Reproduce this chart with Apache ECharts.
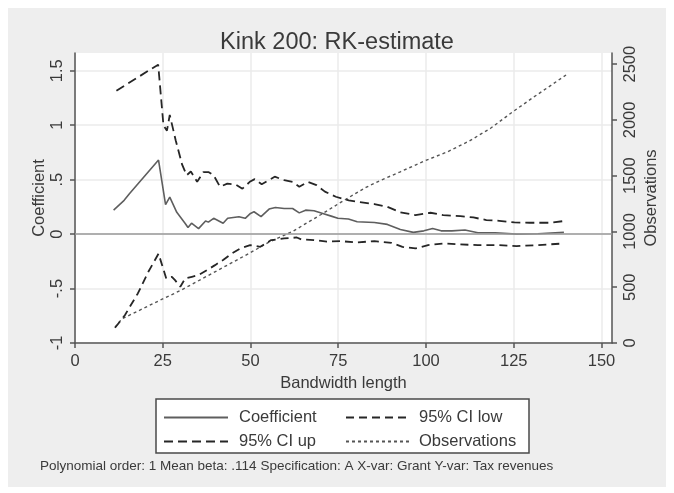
<!DOCTYPE html>
<html>
<head>
<meta charset="utf-8">
<script src="https://cdn.jsdelivr.net/npm/echarts@6/dist/echarts.min.js"></script>
<style>
html,body{margin:0;padding:0;background:#ffffff;}
#chart{width:674px;height:493px;}
</style>
</head>
<body>
<div id="chart"></div>
<script>
// ---- data ----
const coefX = [11, 14, 15.5, 23.8, 25.8, 27, 29, 31.4, 32.2, 33.2, 35.2, 37.2, 38, 39.5, 42.2, 43.5, 46.7, 48.5, 50, 51, 53, 55.3, 57.1, 59.6, 62, 63.9, 65.7, 68.1, 70.6, 73, 74.9, 77.9, 80.4, 85.3, 89, 92.7, 96.4, 99.4, 101.9, 104.3, 107.4, 111.1, 114.8, 119.7, 125.8, 131.9, 139.3];
const coefY = [0.22, 0.31, 0.37, 0.68, 0.27, 0.34, 0.2, 0.098, 0.06, 0.10, 0.05, 0.12, 0.11, 0.145, 0.10, 0.145, 0.16, 0.145, 0.19, 0.205, 0.16, 0.23, 0.245, 0.235, 0.235, 0.195, 0.22, 0.215, 0.19, 0.165, 0.145, 0.138, 0.113, 0.107, 0.089, 0.043, 0.016, 0.03, 0.052, 0.03, 0.03, 0.037, 0.012, 0.012, 0.0, 0.003, 0.016];

const upX = [11.8, 23.7, 25.2, 26.2, 27, 28.7, 30.5, 31.8, 33, 34.8, 36.6, 38, 39.5, 41.3, 43.4, 45.8, 47.7, 49.8, 51.2, 53.2, 56.9, 59.6, 62, 63.9, 66.3, 68.8, 71.2, 74.3, 78, 80.4, 85.3, 89, 92.7, 97, 101.3, 104.9, 109.8, 113.5, 117.2, 120.9, 125.2, 129.5, 135.6, 139.3];
const upY = [1.317, 1.556, 1.0, 0.95, 1.094, 0.86, 0.64, 0.54, 0.575, 0.48, 0.57, 0.57, 0.54, 0.435, 0.463, 0.455, 0.417, 0.48, 0.505, 0.458, 0.527, 0.496, 0.48, 0.435, 0.48, 0.45, 0.39, 0.343, 0.31, 0.297, 0.276, 0.25, 0.2, 0.175, 0.196, 0.175, 0.165, 0.153, 0.129, 0.122, 0.107, 0.104, 0.104, 0.12];

const lowX = [11.4, 14.2, 17.9, 20.9, 23.8, 26, 27.6, 28.5, 30, 31.4, 33.3, 35.2, 37.6, 39.9, 42.3, 44.7, 47.1, 49.9, 52.8, 55.9, 59.6, 63.2, 64.5, 68.1, 71.8, 75.5, 80.4, 85.3, 90.2, 93.3, 97, 100.6, 104.9, 109.8, 114.8, 120.9, 125.8, 131.9, 139.3];
const lowY = [-0.86, -0.745, -0.545, -0.346, -0.18, -0.407, -0.392, -0.423, -0.484, -0.407, -0.392, -0.377, -0.331, -0.285, -0.235, -0.178, -0.132, -0.101, -0.117, -0.055, -0.04, -0.031, -0.049, -0.055, -0.07, -0.064, -0.077, -0.064, -0.08, -0.117, -0.132, -0.101, -0.086, -0.095, -0.101, -0.101, -0.11, -0.101, -0.086];

const obsX = [11.4, 13.3, 24, 30, 40, 50, 55, 62, 70, 76.7, 82.9, 86.5, 92.7, 99.4, 106.2, 112.3, 118.4, 124.6, 130.7, 135.6, 139.9];
const obsY = [140, 215, 380, 470, 640, 810, 900, 1000, 1150, 1280, 1395, 1450, 1535, 1630, 1715, 1810, 1925, 2070, 2205, 2310, 2403];

const xTicks = [0, 25, 50, 75, 100, 125, 150];
const yTicks = [-1, -0.5, 0, 0.5, 1, 1.5];
const yTickLabels = ['-1', '-.5', '0', '.5', '1', '1.5'];
const obsTicks = [0, 500, 1000, 1500, 2000, 2500];
const obsTickLabels = ['0', '500', '1000', '1500', '2000', '2500'];

const titleText = 'Kink 200: RK-estimate';
const noteText = 'Polynomial order: 1 Mean beta: .114 Specification: A X-var: Grant Y-var: Tax revenues';

const pairs = (xs, ys) => xs.map((x, i) => [x, ys[i]]);
const pick = (ticks, labels) => v => { const i = ticks.findIndex(t => Math.abs(t - v) < 1e-6); return i >= 0 ? labels[i] : ''; };

const FONT = '"Liberation Sans", Arial, sans-serif';
const TXT = '#3a3a3a';
const AX = '#555555';

const chart = echarts.init(document.getElementById('chart'), null, {renderer: 'canvas'});

const legendCommon = {
  orient: 'vertical', itemGap: 7, padding: 0,
  itemWidth: 64, itemHeight: 16, z: 10,
  itemStyle: {opacity: 0, borderWidth: 0},
  selectedMode: false
};

const option = {
  backgroundColor: '#ffffff',
  animation: false,
  textStyle: {fontFamily: FONT},
  title: {
    text: titleText,
    left: 'center',
    top: 26,
    textStyle: {fontFamily: FONT, fontSize: 23.5, fontWeight: 'normal', color: TXT}
  },
  graphic: [
    {type: 'rect', z: -100, silent: true, shape: {x: 8, y: 8, width: 658, height: 479}, style: {fill: '#eeeeee'}},
    {type: 'rect', z: 1, silent: true, shape: {x: 156, y: 399, width: 373, height: 54}, style: {fill: '#ffffff', stroke: '#4a4a4a', lineWidth: 1.5}},
    {type: 'text', z: 5, silent: true, x: 40, y: 466, style: {text: noteText, font: '13.5px ' + FONT, fill: TXT, verticalAlign: 'middle'}}
  ],
  legend: [
    Object.assign({}, legendCommon, {
      data: ['Coefficient', '95% CI up'],
      left: 163, top: 409,
      textStyle: {fontFamily: FONT, fontSize: 16.5, color: TXT, lineHeight: 16, padding: [0, 0, 0, 6]}
    }),
    Object.assign({}, legendCommon, {
      data: ['95% CI low', 'Observations'],
      left: 345, top: 409,
      textStyle: {fontFamily: FONT, fontSize: 16.5, color: TXT, lineHeight: 16, padding: [0, 0, 0, 4]}
    })
  ],
  grid: {
    left: 75, right: 62, top: 53, bottom: 150,
    show: true, backgroundColor: '#ffffff', borderWidth: 0,
    containLabel: false
  },
  xAxis: {
    type: 'value', min: 0, max: 153,
    name: 'Bandwidth length', nameLocation: 'middle', nameGap: 30,
    nameTextStyle: {fontFamily: FONT, fontSize: 16.5, color: TXT},
    axisLine: {show: true, onZero: false, lineStyle: {color: AX, width: 1.5}},
    axisTick: {show: true, length: 5, customValues: xTicks, lineStyle: {color: AX, width: 1.5}},
    axisLabel: {customValues: xTicks, margin: 10, fontFamily: FONT, fontSize: 16.5, color: TXT},
    splitLine: {show: true, lineStyle: {color: '#ebebeb', width: 1.5}}
  },
  yAxis: [
    {
      type: 'value', min: -1, max: 1.663, position: 'left',
      name: 'Coefficient', nameLocation: 'middle', nameRotate: 90, nameGap: 27,
      nameMoveOverlap: false,
      nameTextStyle: {fontFamily: FONT, fontSize: 16.5, color: TXT},
      axisLine: {show: true, onZero: false, lineStyle: {color: AX, width: 1.5}},
      axisTick: {show: true, length: 5, customValues: yTicks, lineStyle: {color: AX, width: 1.5}},
      axisLabel: {
        customValues: yTicks, rotate: 90, margin: 9,
        fontFamily: FONT, fontSize: 16.5, color: TXT,
        formatter: pick(yTicks, yTickLabels)
      },
      splitLine: {show: true, lineStyle: {color: '#ebebeb', width: 1.5}}
    },
    {
      type: 'value', min: 0, max: 2600, position: 'right',
      name: 'Observations', nameLocation: 'middle', nameRotate: 90, nameGap: 31,
      nameMoveOverlap: false,
      nameTextStyle: {fontFamily: FONT, fontSize: 16.5, color: TXT},
      axisLine: {show: true, onZero: false, lineStyle: {color: AX, width: 1.5}},
      axisTick: {show: true, length: 5, customValues: obsTicks, lineStyle: {color: AX, width: 1.5}},
      axisLabel: {
        customValues: obsTicks, rotate: 90, margin: 10,
        fontFamily: FONT, fontSize: 16.5, color: TXT,
        formatter: pick(obsTicks, obsTickLabels)
      },
      splitLine: {show: false}
    }
  ],
  series: [
    {
      name: 'Coefficient', type: 'line', yAxisIndex: 0, symbol: 'none', z: 4,
      data: pairs(coefX, coefY),
      lineStyle: {color: '#5e5e5e', width: 1.6, type: 'solid'},
      itemStyle: {color: '#5e5e5e'},
      markLine: {
        silent: true, symbol: 'none', label: {show: false},
        lineStyle: {color: '#9a9a9a', width: 1.5, type: 'solid'},
        data: [{yAxis: 0}]
      }
    },
    {
      name: '95% CI low', type: 'line', yAxisIndex: 0, symbol: 'none', z: 4,
      data: pairs(lowX, lowY),
      lineStyle: {color: '#262626', width: 1.8, type: [8, 5]},
      itemStyle: {color: '#262626'}
    },
    {
      name: '95% CI up', type: 'line', yAxisIndex: 0, symbol: 'none', z: 4,
      data: pairs(upX, upY),
      lineStyle: {color: '#262626', width: 1.8, type: [9, 5]},
      itemStyle: {color: '#262626'}
    },
    {
      name: 'Observations', type: 'line', yAxisIndex: 1, symbol: 'none', z: 3,
      data: pairs(obsX, obsY),
      lineStyle: {color: '#555555', width: 1.4, type: [3, 3]},
      itemStyle: {color: '#555555'}
    }
  ]
};
chart.setOption(option);
</script>
</body>
</html>
